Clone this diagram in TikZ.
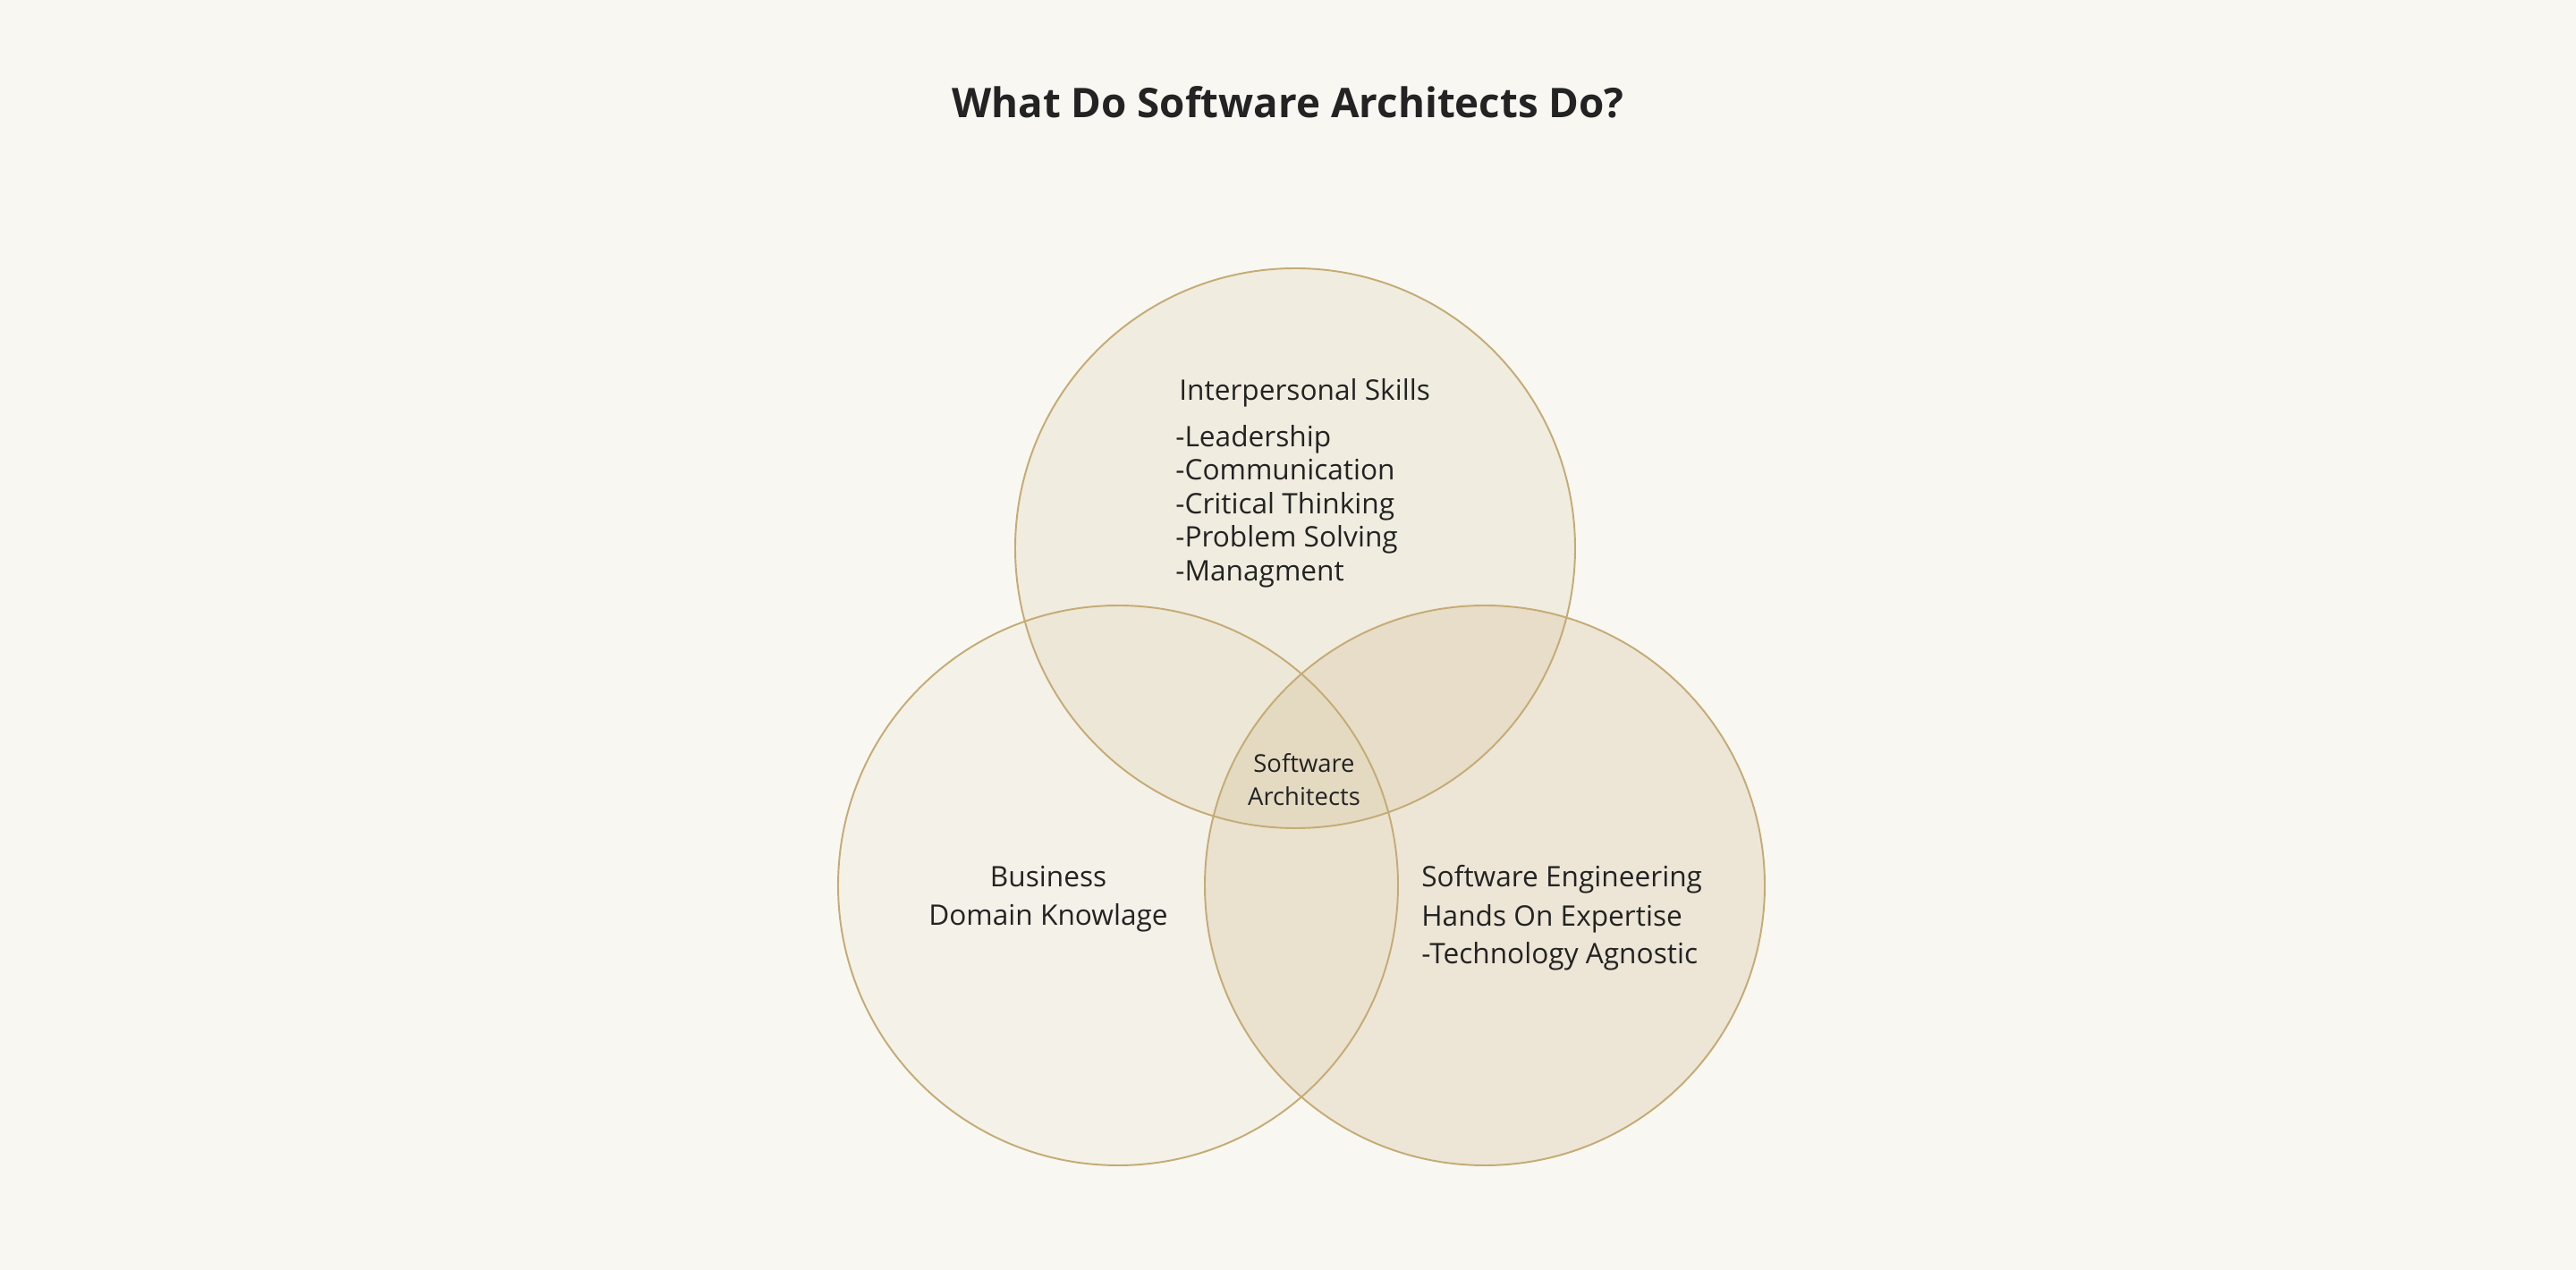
\documentclass[tikz,border=0pt]{standalone}
\usepackage{fontspec}
\setmainfont{Open Sans}
\definecolor{bgcream}{HTML}{F8F7F2}
\definecolor{ringgold}{HTML}{C5AB74}
\definecolor{ringfill}{HTML}{C8AE78}
\definecolor{inkgrey}{HTML}{232323}
\tikzset{
	ring/.style={draw=ringgold, line width=1.1pt, fill=ringfill, fill opacity=#1},
	areatext/.style={text=inkgrey, inner sep=0pt, font=\fontsize{18}{21}\selectfont},
	coretext/.style={text=inkgrey, inner sep=0pt, font=\fontsize{15.6}{18}\selectfont},
	titletext/.style={text=inkgrey, inner sep=0pt, font=\bfseries\fontsize{26}{32}\selectfont}
}

\begin{document}
\begin{tikzpicture}
		%%%%% BACKGROUND %%%%%
		\fill[bgcream] (0, 0) rectangle (57.6, 28.4);
		
		\node[titletext, anchor=base] (title) at (28.8, 25.76) {What Do Software Architects Do?};
		
		%%%%% CIRCLES %%%%%
		\draw[ring=0.08] (25.0, 8.6) circle (6.26);
		\draw[ring=0.22] (33.2, 8.6) circle (6.26);
		\draw[ring=0.15] (28.96, 16.14) circle (6.26);
		
		%%%%% TOP: INTERPERSONAL %%%%%
		\node[areatext, anchor=base west] (people) at (26.36, 19.44) {Interpersonal Skills};
		\node[areatext, anchor=base west] (lead) at (26.28, 18.40) {-Leadership};
		\node[areatext, anchor=base west] (comm) at (26.28, 17.66) {-Communication};
		\node[areatext, anchor=base west] (think) at (26.28, 16.90) {-Critical Thinking};
		\node[areatext, anchor=base west] (solve) at (26.28, 16.16) {-Problem Solving};
		\node[areatext, anchor=base west] (manage) at (26.28, 15.40) {-Managment};
		
		%%%%% LEFT: BUSINESS %%%%%
		\node[areatext, anchor=base] (business) at (23.44, 8.56) {Business};
		\node[areatext, anchor=base] (domain) at (23.44, 7.70) {Domain Knowlage};
		
		%%%%% RIGHT: ENGINEERING %%%%%
		\node[areatext, anchor=base west] (engineering) at (31.78, 8.56) {Software Engineering};
		\node[areatext, anchor=base west] (handson) at (31.78, 7.68) {Hands On Expertise};
		\node[areatext, anchor=base west] (agnostic) at (31.78, 6.84) {-Technology Agnostic};
		
		%%%%% CENTRE %%%%%
		\node[coretext, anchor=base] (software) at (29.16, 11.12) {Software};
		\node[coretext, anchor=base] (architects) at (29.16, 10.38) {Architects};
	\end{tikzpicture}
\end{document}
